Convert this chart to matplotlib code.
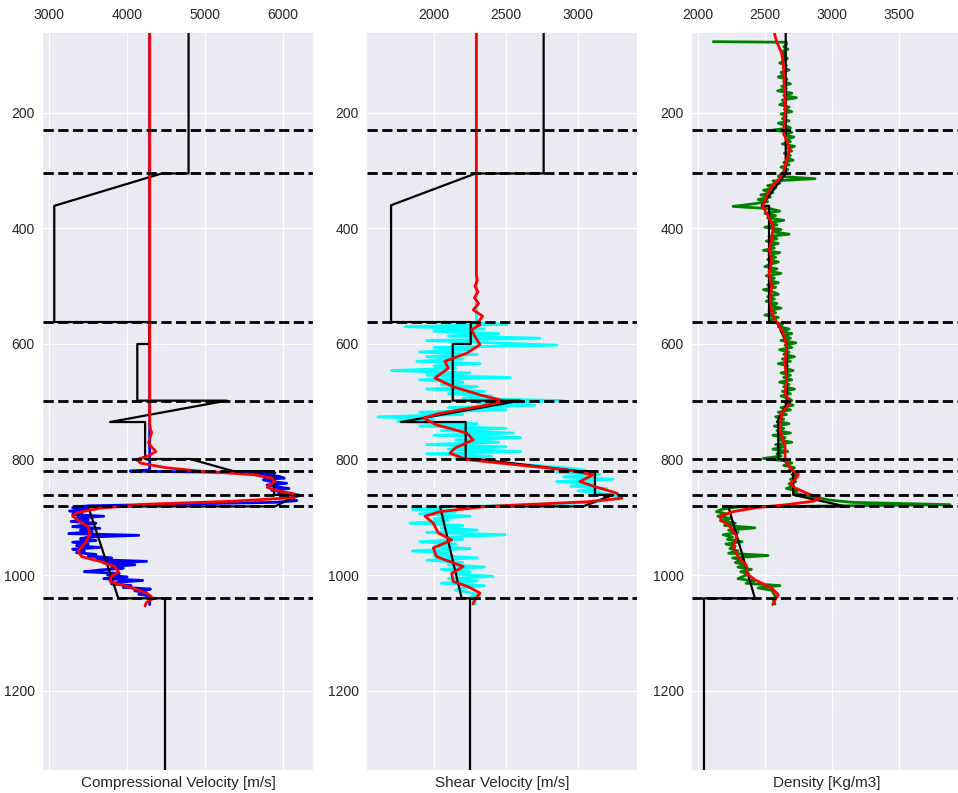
import numpy as np
import matplotlib.pyplot as plt

plt.style.use('seaborn-v0_8-darkgrid')
plt.rcParams['font.family'] = ['Liberation Sans', 'DejaVu Sans']

# horizon depths (m)
horizons = [230, 305, 562, 698, 799, 820, 861, 881, 1040]

# blocky model, vertices (depth, value)
model_depth_vp = [62, 305, 305, 361, 562, 562, 600, 600, 698, 698, 735, 735,
                  799, 799, 820, 820, 861, 861, 881, 881, 1040, 1040, 1340]
model_vp = [4790, 4790, 4445, 3064, 3064, 4285, 4285, 4131, 4131, 5280, 3781, 4231,
            4231, 4810, 5365, 5888, 5888, 6197, 5900, 3499, 3887, 4487, 4487]

model_depth_vs = [62, 305, 305, 360, 562, 562, 600, 600, 698, 698, 735, 735,
                  799, 799, 820, 820, 861, 861, 881, 881, 1040, 1040, 1340]
model_vs = [2761, 2761, 2289, 1702, 1702, 2255, 2255, 2130, 2130, 2597, 1771, 2220,
            2220, 2300, 3000, 3117, 3117, 3243, 3035, 2042, 2192, 2250, 2250]

model_depth_rho = [62, 305, 361, 361, 562, 562, 600, 698, 698, 735, 735, 799, 799,
                   820, 861, 881, 881, 1040, 1040, 1340]
model_rho = [2655, 2655, 2476, 2531, 2531, 2592, 2662, 2662, 2675, 2590, 2600, 2600, 2637,
             2711, 2711, 3100, 2228, 2426, 2047, 2047]

# well logs
vp_const = 4290          # filled value above the logged interval
vp_start, vp_step = 820, 3
vp_log = [
    4040, 5900, 5700, 5950, 6020, 5750, 5850, 6050, 5800, 5920,   # 820
    6080, 5860, 6000, 5950, 6200, 6150, 6050, 6180, 5900, 4650,   # 850
    3500, 3300, 3500, 3260, 3420, 3300, 3700, 3350, 3500, 3280,   # 880
    3600, 3450, 3300, 3650, 3400, 3550, 3250, 4150, 3500, 3400,   # 910
    3600, 3300, 3500, 3350, 3650, 3300, 3450, 3350, 3600, 3500,   # 940
    3800, 3600, 4250, 3700, 4100, 3800, 3950, 3650, 3450, 3900,   # 970
    3750, 4000, 3700, 4200, 3900, 3800, 4050, 3950, 4300, 4100,   # 1000
    4250, 4150, 4300, 4290, 4300, 4290, 4290, 4290,               # 1030
]

vs_const = 2294
vs_start, vs_step = 566, 4
vs_log = [
    2505, 1800, 2350, 2000, 2450, 2100, 2735, 1950, 2400, 2851,   # 566
    2000, 2250, 1900, 2300, 1950, 2200, 1880, 2320, 2000, 2150,   # 606
    1706, 2250, 1950, 2527, 1900, 2200, 2050, 2300, 1950, 2350,   # 646
    2100, 2400, 2200, 2897, 2300, 2700, 2100, 2500, 1900, 2200,   # 686
    1611, 2000, 1750, 2300, 1900, 2500, 2050, 2550, 2000, 2600,   # 726
    2150, 2450, 1950, 2500, 2100, 2600, 1950, 2400, 2150, 2350,   # 766
    2450, 2700, 2900, 3050, 2850, 3150, 2900, 3243, 2850, 3100,   # 806
    2950, 3200, 3000, 3150, 3250, 3300, 3200, 3100, 2700, 2100,   # 846
    1850, 2150, 1900, 2250, 2000, 2100, 1833, 2200, 2050, 2300,   # 886
    1950, 2493, 2100, 2200, 1900, 2150, 2000, 2250, 1850, 2100,   # 926
    2000, 2300, 1950, 2200, 2100, 2350, 2050, 2250, 2150, 2410,   # 966
    2100, 2300, 2050, 2350, 2200, 2150, 2250, 2300, 2250, 2280,   # 1006
    2270, 2290,                                                   # 1046
]

rho_spike_depth, rho_spike = 77, 2116   # first sample of the density log
rho_start, rho_step = 78, 4
rho_log = [
    2660, 2660, 2640, 2672, 2625, 2655, 2630, 2668, 2645, 2610,   # 78
    2660, 2635, 2680, 2620, 2650, 2600, 2665, 2640, 2690, 2625,   # 118
    2660, 2595, 2700, 2640, 2735, 2630, 2655, 2610, 2680, 2645,   # 158
    2700, 2620, 2660, 2630, 2680, 2600, 2650, 2690, 2560, 2700,   # 198
    2640, 2715, 2660, 2690, 2630, 2720, 2670, 2700, 2645, 2690,   # 238
    2660, 2710, 2640, 2680, 2620, 2670, 2650, 2620, 2600, 2873,   # 278
    2560, 2610, 2520, 2580, 2490, 2560, 2470, 2540, 2450, 2520,   # 318
    2400, 2263, 2540, 2610, 2500, 2580, 2520, 2640, 2540, 2590,   # 358
    2500, 2620, 2560, 2680, 2530, 2590, 2510, 2600, 2540, 2570,   # 398
    2490, 2610, 2530, 2580, 2520, 2600, 2545, 2500, 2590, 2530,   # 438
    2620, 2510, 2570, 2530, 2600, 2520, 2580, 2490, 2560, 2600,   # 478
    2520, 2570, 2510, 2590, 2540, 2620, 2530, 2580, 2500, 2600,   # 518
    2540, 2560, 2630, 2600, 2680, 2620, 2700, 2640, 2690, 2620,   # 558
    2730, 2650, 2700, 2610, 2680, 2640, 2720, 2630, 2690, 2600,   # 598
    2670, 2650, 2710, 2620, 2690, 2640, 2700, 2610, 2680, 2640,   # 638
    2720, 2630, 2690, 2620, 2680, 2700, 2650, 2710, 2620, 2690,   # 678
    2600, 2660, 2580, 2640, 2600, 2680, 2570, 2640, 2590, 2690,   # 718
    2560, 2650, 2600, 2700, 2580, 2640, 2560, 2670, 2590, 2620,   # 758
    2488, 2650, 2700, 2640, 2720, 2680, 2750, 2700, 2740, 2690,   # 798
    2730, 2680, 2710, 2660, 2740, 2720, 2800, 2900, 2980, 3150,   # 838
    3877, 2300, 2180, 2140, 2220, 2150, 2250, 2170, 2280, 2200,   # 878
    2426, 2230, 2300, 2190, 2260, 2220, 2330, 2210, 2280, 2240,   # 918
    2300, 2230, 2523, 2260, 2330, 2280, 2360, 2300, 2400, 2320,   # 958
    2380, 2340, 2300, 2420, 2360, 2612, 2450, 2550, 2560, 2570,   # 998
    2580, 2560, 2570, 2575,                                       # 1038
]

# smoothed logs (red)
smooth_depth_vp = [62, 740, 748, 753, 762, 771, 779, 786, 793, 800, 806, 814, 820,
                   826, 832, 838, 843, 848, 853, 858, 862, 866, 872, 877, 884, 892,
                   898, 906, 916, 930, 944, 959, 968, 976, 985, 994, 1002, 1011,
                   1020, 1031, 1040, 1047, 1053]
smooth_vp = [4290, 4290, 4300, 4315, 4295, 4275, 4320, 4370, 4280, 4125, 4170, 4500, 4940,
             5620, 5860, 5900, 5840, 5800, 5900, 6100, 6220, 6120, 5370, 4300, 3650, 3350,
             3300, 3380, 3500, 3520, 3460, 3370, 3416, 3650, 3845, 3887, 3800, 3780,
             4016, 4252, 4337, 4250, 4230]

smooth_depth_vs = [62, 470, 480, 490, 500, 510, 520, 530, 541, 552, 558, 564, 567,
                   575, 587, 601, 616, 630, 642, 659, 674, 688, 699, 708, 720, 728,
                   740, 754, 766, 780, 789, 800, 809, 818, 826, 838, 846, 858, 867,
                   873, 881, 890, 898, 910, 927, 939, 953, 968, 985, 997, 1011, 1020,
                   1031, 1043, 1050]
smooth_vs = [2294, 2294, 2294, 2300, 2285, 2305, 2280, 2310, 2273, 2338, 2320, 2296, 2319,
             2261, 2284, 2319, 2227, 2076, 2099, 2007, 2134, 2319, 2493, 2319, 2042, 1926,
             2018, 2227, 2273, 2146, 2111, 2227, 2574, 2921, 3106, 3013, 3106, 3268, 3303,
             3060, 2366, 2042, 1938, 1995, 2030, 2123, 1995, 2018, 2203, 2123, 2134, 2238,
             2319, 2284, 2270]

smooth_depth_rho = [62, 77, 97, 120, 149, 175, 195, 215, 235, 250, 264, 281, 304, 316,
                    328, 340, 351, 362, 379, 397, 420, 437, 454, 477, 500, 523, 546,
                    562, 581, 604, 633, 662, 685, 702, 720, 748, 777, 800, 818, 826,
                    835, 841, 849, 858, 867, 872, 878, 883, 890, 898, 905, 916, 933,
                    950, 968, 985, 997, 1008, 1022, 1034, 1043, 1051]
smooth_rho = [2570, 2588, 2625, 2640, 2644, 2650, 2652, 2645, 2640, 2665, 2687, 2662, 2637,
              2600, 2550, 2520, 2501, 2484, 2525, 2563, 2550, 2533, 2550, 2531, 2550, 2540,
              2550, 2588, 2637, 2662, 2650, 2662, 2650, 2687, 2625, 2612, 2650, 2650, 2699,
              2749, 2724, 2687, 2724, 2811, 2910, 2860, 2662, 2439, 2265, 2166, 2175, 2240,
              2290, 2265, 2302, 2365, 2365, 2426, 2550, 2600, 2575, 2558]


def log_track(start, step, values, const=None):
    depth = start + step * np.arange(len(values))
    if const is not None:
        # constant fill above the logged interval
        depth = np.concatenate(([62, start - 2], depth))
        values = [const, const] + list(values)
    return values, depth


vp_vals, vp_depth = log_track(vp_start, vp_step, vp_log, vp_const)
vs_vals, vs_depth = log_track(vs_start, vs_step, vs_log, vs_const)
rho_vals, rho_depth = log_track(rho_start, rho_step, rho_log)
rho_vals = [rho_spike] + rho_vals
rho_depth = np.concatenate(([rho_spike_depth], rho_depth))

fig = plt.figure(figsize=(9.58, 7.93), dpi=100)
W, H = 958.0, 793.0
lefts = [43, 367, 692]
axes = [fig.add_axes([l / W, 23 / H, 270 / W, 737 / H]) for l in lefts]

tracks = [
    (vp_vals, vp_depth, 'blue', model_depth_vp, model_vp,
     smooth_depth_vp, smooth_vp, (2919, 6389), [3000, 4000, 5000, 6000],
     'Compressional Velocity [m/s]'),
    (vs_vals, vs_depth, 'cyan', model_depth_vs, model_vs,
     smooth_depth_vs, smooth_vs, (1535, 3409), [2000, 2500, 3000],
     'Shear Velocity [m/s]'),
    (rho_vals, rho_depth, 'green', model_depth_rho, model_rho,
     smooth_depth_rho, smooth_rho, (1958, 3966), [2000, 2500, 3000, 3500],
     'Density [Kg/m3]'),
]

for ax, (v, d, col, md, mv, sd, sv, xl, xt, lab) in zip(axes, tracks):
    ax.plot(v, d, color=col, lw=2)
    ax.plot(mv, md, color='black', lw=1.6)
    ax.plot(sv, sd, color='red', lw=2)
    for h in horizons:
        ax.axhline(h, color='black', lw=2, ls='--')

    ax.set_xlim(*xl)
    ax.set_ylim(1337, 62)
    ax.set_xticks(xt)
    ax.set_yticks([200, 400, 600, 800, 1000, 1200])
    ax.xaxis.tick_top()
    ax.set_xlabel(lab, fontsize=11, color='#262626')
    ax.tick_params(axis='x', labelsize=10, pad=8, colors='#262626')
    ax.tick_params(axis='y', labelsize=10, pad=6, colors='#262626')

fig.savefig('out.png', dpi=100)
